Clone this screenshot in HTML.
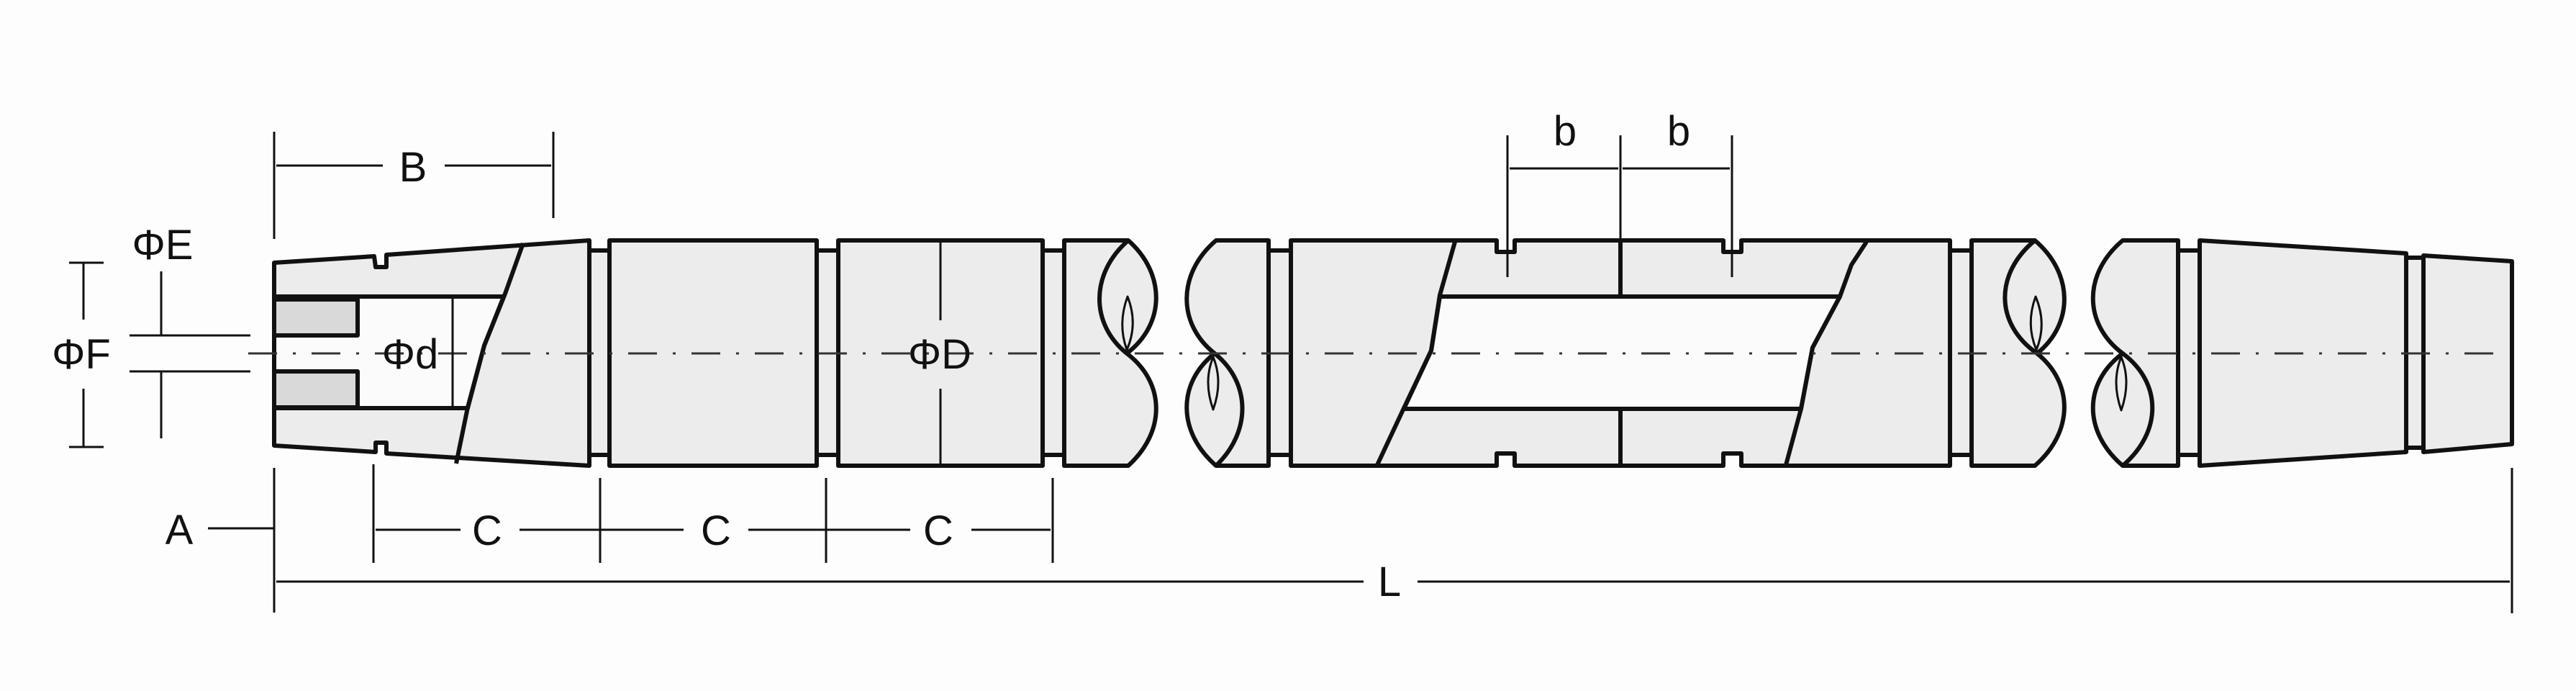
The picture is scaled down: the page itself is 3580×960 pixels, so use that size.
<!DOCTYPE html>
<html><head><meta charset="utf-8"><style>
html,body{margin:0;padding:0;background:#fdfdfd;}
svg{display:block}
text{font-family:"Liberation Sans",sans-serif;fill:#111;}
</style></head><body>
<svg width="3580" height="960" viewBox="0 0 3580 960" xmlns="http://www.w3.org/2000/svg">
<rect width="3580" height="960" fill="#fdfdfd"/>
<g stroke="#111" stroke-width="6" fill="#ececec" stroke-linejoin="round">
<rect x="817" y="348" width="30" height="284"/>
<rect x="1135" y="348" width="30" height="284"/>
<rect x="1447" y="348" width="32" height="284"/>
<rect x="1762" y="348" width="32" height="284"/>
<rect x="2708" y="348" width="32" height="284"/>
<rect x="3025" y="348" width="32" height="284"/>
<rect x="3342" y="358" width="26" height="264"/>
<path d="M381 365 L520 356 L522 371 L537 371 L537 354 L819 334 L819 647 L537 630 L537 615 L522 615 L522 628 L381 619 Z"/>
<path d="M381 412 L700 412 L673 480 L650 567 L381 567 Z" fill="#fbfbfb"/>
<rect x="381" y="416" width="116" height="50" fill="#d9d9d9"/>
<rect x="381" y="516" width="116" height="50" fill="#d9d9d9"/>
<path d="M727 338 L702 408 L673 480 L650 566 L634 644" fill="none"/>
<rect x="847" y="334" width="288" height="313"/>
<rect x="1165" y="334" width="284" height="313"/>
<!-- seg4 -->
<path d="M1479 334 L1568 334 C1620 380 1620 450 1566 491 C1620 532 1620 600 1568 647 L1479 647 Z"/>
<path d="M1568 334 C1515 380 1515 450 1566 491" fill="none"/>
<path d="M1567 412 Q1553 450 1566 486 Q1582 450 1567 412 Z" fill="none" stroke-width="3"/>
<!-- seg5 -->
<path d="M1690 334 L1763 334 L1763 647 L1690 647 C1636 600 1636 532 1688 491 C1636 450 1636 380 1690 334 Z"/>
<path d="M1688 491 C1739 532 1739 600 1690 647" fill="none"/>
<path d="M1686 496 Q1672 530 1686 569 Q1700 530 1686 496 Z" fill="none" stroke-width="3"/>
<!-- seg6 -->
<path d="M1794 334 L2080 334 L2080 350 L2105 350 L2105 334 L2395 334 L2395 350 L2420 350 L2420 334 L2710 334 L2710 647 L2420 647 L2420 630 L2395 630 L2395 647 L2105 647 L2105 630 L2080 630 L2080 647 L1794 647 Z"/>
<path d="M2001 412 L2557 412 L2519 483 L2503 568 L1951 568 L1989 487 Z" fill="#fbfbfb"/>
<path d="M2022 336 L2001 410 L1989 487 L1951 567 L1914 646" fill="none"/>
<path d="M2594 336 L2573 368 L2557 412 L2519 483 L2503 568 L2482 646" fill="none"/>
<line x1="2252" y1="334" x2="2252" y2="412"/>
<line x1="2252" y1="568" x2="2252" y2="647"/>
<!-- seg7 -->
<path d="M2740 334 L2828 334 C2882 380 2882 450 2831 491 C2882 532 2882 600 2828 647 L2740 647 Z"/>
<path d="M2828 334 C2772 380 2772 450 2831 491" fill="none"/>
<path d="M2829 412 Q2815 450 2830 486 Q2845 450 2829 412 Z" fill="none" stroke-width="3"/>
<!-- seg8 -->
<path d="M2950 334 L3027 334 L3027 647 L2950 647 C2895 600 2895 532 2950 491 C2895 450 2895 380 2950 334 Z"/>
<path d="M2950 491 C3005 532 3005 600 2950 647" fill="none"/>
<path d="M2948 496 Q2934 530 2948 570 Q2962 530 2948 496 Z" fill="none" stroke-width="3"/>
<path d="M3057 334 L3344 352 L3344 628 L3057 647 Z"/>
<path d="M3368 355 L3491 363 L3491 617 L3368 628 Z"/>
</g>
<line x1="345" y1="491" x2="3485" y2="491" stroke="#333" stroke-width="3" stroke-dasharray="40 22 4 22"/>
<g stroke="#111" stroke-width="3" fill="none">
<line x1="381" y1="183" x2="381" y2="332"/>
<line x1="769" y1="183" x2="769" y2="303"/>
<line x1="384" y1="230" x2="532" y2="230"/>
<line x1="618" y1="230" x2="766" y2="230"/>
<line x1="2095" y1="188" x2="2095" y2="385"/>
<line x1="2252" y1="188" x2="2252" y2="334"/>
<line x1="2407" y1="188" x2="2407" y2="385"/>
<line x1="2098" y1="234" x2="2249" y2="234"/>
<line x1="2255" y1="234" x2="2404" y2="234"/>
<line x1="180" y1="466" x2="348" y2="466"/>
<line x1="180" y1="516" x2="348" y2="516"/>
<line x1="224" y1="377" x2="224" y2="466"/>
<line x1="224" y1="516" x2="224" y2="609"/>
<line x1="96" y1="365" x2="144" y2="365"/>
<line x1="116" y1="365" x2="116" y2="444"/>
<line x1="116" y1="540" x2="116" y2="621"/>
<line x1="96" y1="621" x2="144" y2="621"/>
<line x1="629" y1="414" x2="629" y2="565"/>
<line x1="1307" y1="336" x2="1307" y2="445"/>
<line x1="1307" y1="540" x2="1307" y2="646"/>
<line x1="381" y1="650" x2="381" y2="851"/>
<line x1="289" y1="734" x2="381" y2="734"/>
<line x1="519" y1="645" x2="519" y2="782"/>
<line x1="834" y1="664" x2="834" y2="782"/>
<line x1="1148" y1="664" x2="1148" y2="782"/>
<line x1="1463" y1="664" x2="1463" y2="782"/>
<line x1="522" y1="736" x2="640" y2="736"/>
<line x1="722" y1="736" x2="950" y2="736"/>
<line x1="1040" y1="736" x2="1265" y2="736"/>
<line x1="1350" y1="736" x2="1460" y2="736"/>
<line x1="3491" y1="650" x2="3491" y2="852"/>
<line x1="384" y1="808" x2="1895" y2="808"/>
<line x1="1970" y1="808" x2="3488" y2="808"/>
</g>
<g font-size="58" text-anchor="middle">
<text x="574" y="252">B</text>
<text x="2175" y="202">b</text>
<text x="2333" y="202">b</text>
<text x="226" y="360">ΦE</text>
<text x="113" y="512">ΦF</text>
<text x="570" y="512">Φd</text>
<text x="1306" y="512">ΦD</text>
<text x="249" y="756">A</text>
<text x="677" y="757">C</text>
<text x="995" y="757">C</text>
<text x="1304" y="757">C</text>
<text x="1931" y="828">L</text>
</g>
</svg>
</body></html>
